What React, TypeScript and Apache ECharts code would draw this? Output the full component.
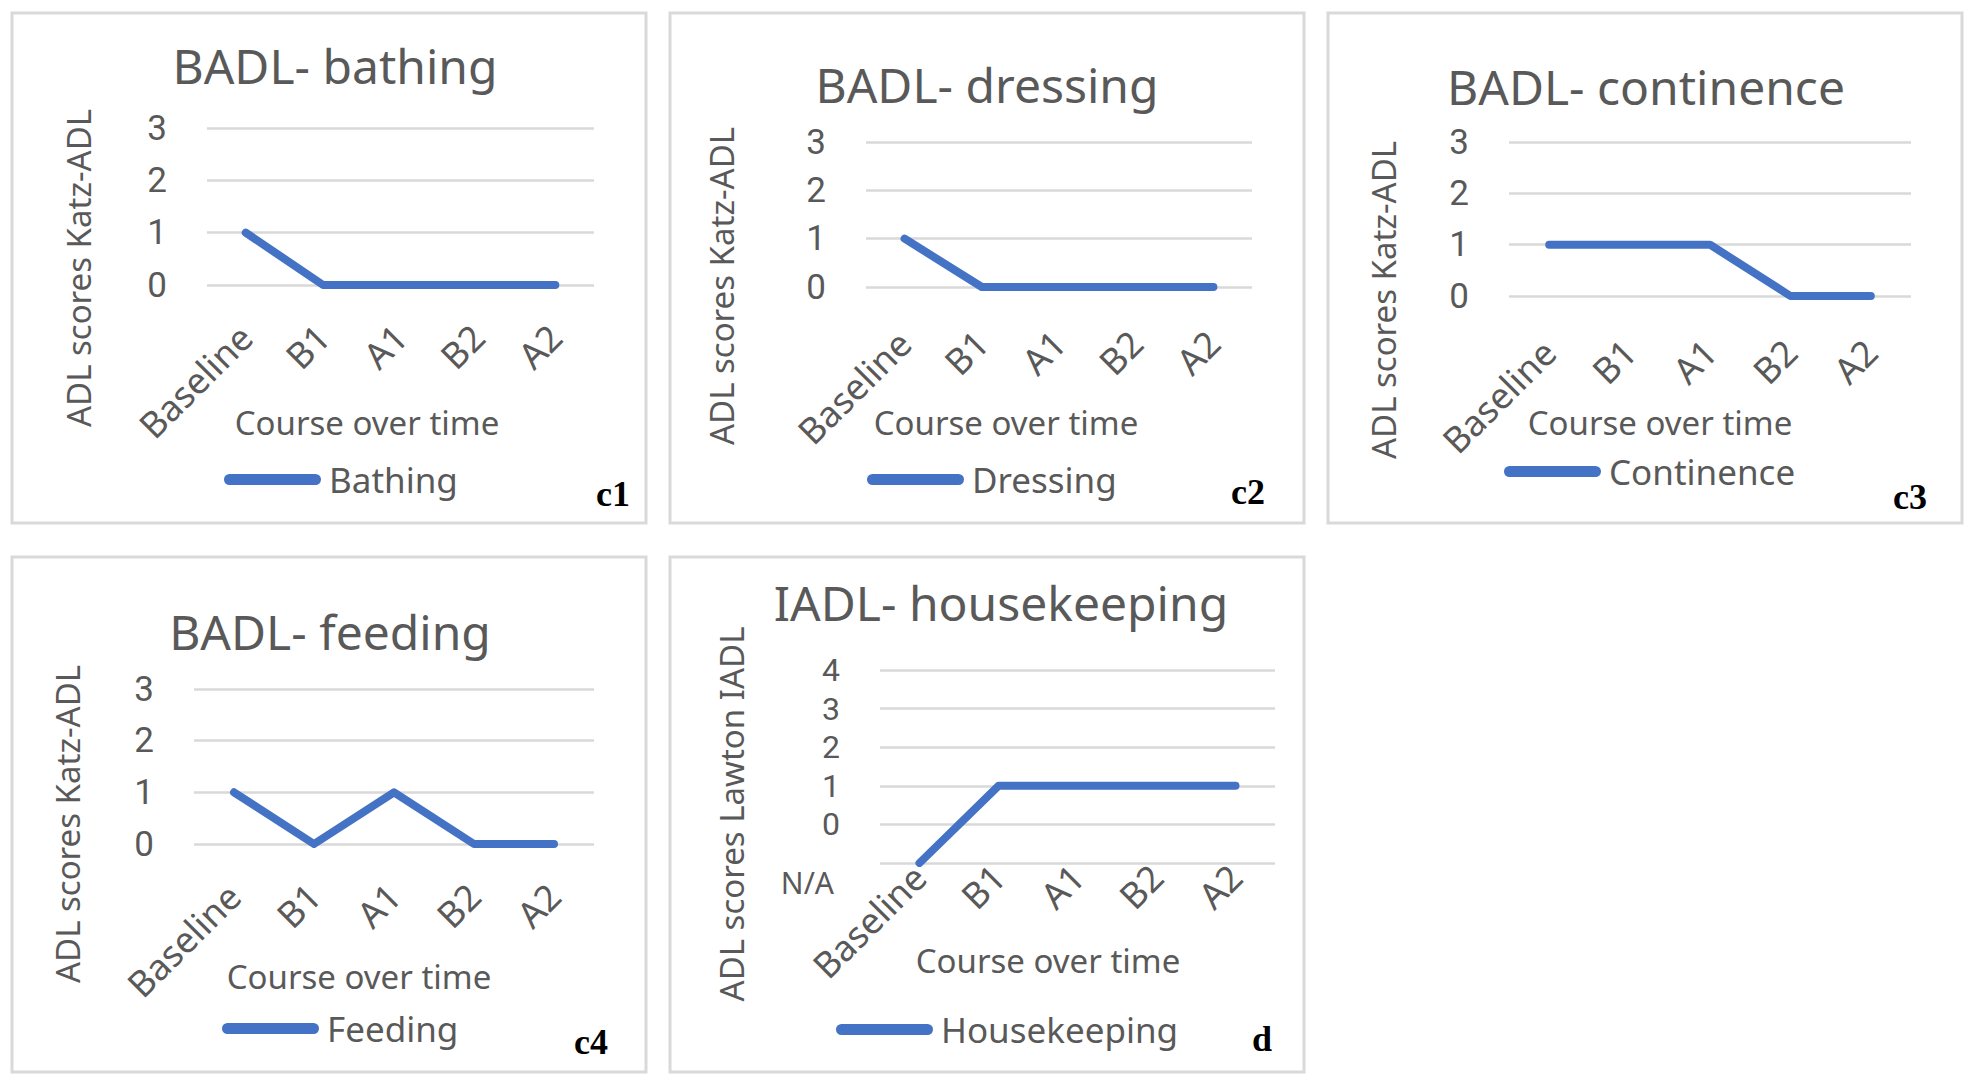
import React, { useEffect, useRef } from "react";
import * as echarts from "echarts";

// ---- data ----
const categories = ["Baseline", "B1", "A1", "B2", "A2"];
const bathing = [1, 0, 0, 0, 0];
const dressing = [1, 0, 0, 0, 0];
const continence = [1, 1, 1, 0, 0];
const feeding = [1, 0, 1, 0, 0];
// -1 is the "N/A" level of the Lawton IADL axis
const housekeeping = [-1, 1, 1, 1, 1];
const naLabel = "N/A";

const katzRange = [0, 3];
const lawtonRange = [-1, 4];

// ---- layout (pixels) ----
const FONT = "Noto Sans";
const TICKFONT = "Roboto";
const GREY = "#595959";
const GRIDC = "#D9D9D9";
const BLUE = "#4472C4";

type Panel = {
  title: string;
  name: string;
  data: number[];
  yName: string;
  tag: string;
  range: number[];
  box: number[];
  grid: number[];
  labelMargin: number;
  tickSize: number;
  titleC: number[];
  yNameC: number[];
  xNameC: number[];
  legend: number[];
  tagC: number[];
};

const panels: Panel[] = [
  {
    title: "BADL- bathing", name: "Bathing", data: bathing, yName: "ADL scores Katz-ADL", tag: "c1", range: katzRange,
    box: [12, 13, 634, 510], grid: [207, 128, 387, 157], labelMargin: 46, tickSize: 35, titleC: [335, 65], yNameC: [78, 268], xNameC: [367, 422], legend: [224, 480], tagC: [613, 494],
  },
  {
    title: "BADL- dressing", name: "Dressing", data: dressing, yName: "ADL scores Katz-ADL", tag: "c2", range: katzRange,
    box: [670, 13, 634, 510], grid: [866, 142, 386, 145], labelMargin: 50, tickSize: 35, titleC: [987, 84], yNameC: [721, 286], xNameC: [1006, 422], legend: [867, 480], tagC: [1248, 492],
  },
  {
    title: "BADL- continence", name: "Continence", data: continence, yName: "ADL scores Katz-ADL", tag: "c3", range: katzRange,
    box: [1328, 13, 634, 510], grid: [1509, 142, 402, 154], labelMargin: 50, tickSize: 35, titleC: [1646, 86], yNameC: [1383, 300], xNameC: [1660, 422], legend: [1504, 472], tagC: [1910, 497],
  },
  {
    title: "BADL- feeding", name: "Feeding", data: feeding, yName: "ADL scores Katz-ADL", tag: "c4", range: katzRange,
    box: [12, 557, 634, 515], grid: [194, 689, 400, 155], labelMargin: 46, tickSize: 35, titleC: [330, 631], yNameC: [67, 824], xNameC: [359, 976], legend: [222, 1029], tagC: [591, 1042],
  },
  {
    title: "IADL- housekeeping", name: "Housekeeping", data: housekeeping, yName: "ADL scores Lawton IADL", tag: "d", range: lawtonRange,
    box: [670, 557, 634, 515], grid: [880, 670, 395, 193], labelMargin: 8, tickSize: 32, titleC: [1001, 602], yNameC: [731, 814], xNameC: [1048, 960], legend: [836, 1030], tagC: [1262, 1039],
  },
];

const legendIcon = "path://M5.5,0L91.5,0A5.5,5.5,0,0,1,91.5,11L5.5,11A5.5,5.5,0,0,1,5.5,0Z";

function buildOption() {
  const option: any = {
    animation: false,
    backgroundColor: "#ffffff",
    title: [],
    legend: [],
    grid: [],
    xAxis: [],
    yAxis: [],
    series: [],
    graphic: [],
  };
  panels.forEach((p, i) => {
    option.title.push({
      text: p.title,
      left: p.titleC[0],
      top: p.titleC[1],
      textAlign: "center",
      textVerticalAlign: "middle",
      padding: 0,
      textStyle: { fontFamily: FONT, fontSize: 48, fontWeight: "normal", color: GREY },
    });
    option.grid.push({
      left: p.grid[0],
      top: p.grid[1],
      width: p.grid[2],
      height: p.grid[3],
      outerBoundsMode: "none",
      containLabel: false,
    });
    option.xAxis.push({
      type: "category",
      gridIndex: i,
      data: categories,
      boundaryGap: true,
      axisLine: { show: false },
      axisTick: { show: false },
      splitLine: { show: false },
      axisLabel: {
        interval: 0,
        rotate: 45,
        margin: p.labelMargin,
        fontFamily: FONT,
        fontSize: 36,
        color: GREY,
      },
    });
    const isLawton = p.range[0] < 0;
    option.yAxis.push({
      type: "value",
      gridIndex: i,
      min: p.range[0],
      max: p.range[1],
      interval: 1,
      axisLine: { show: false },
      axisTick: { show: false },
      splitLine: { show: true, lineStyle: { color: GRIDC, width: 2.5 } },
      axisLabel: {
        margin: 40,
        fontFamily: TICKFONT,
        fontSize: p.tickSize,
        color: GREY,
        formatter: (v: number) => (v < 0 ? "" : String(v)),
      },
    });
    option.series.push({
      type: "line",
      name: p.name,
      xAxisIndex: i,
      yAxisIndex: i,
      data: p.data,
      symbol: "none",
      showSymbol: false,
      color: BLUE,
      lineStyle: { color: BLUE, width: 8, cap: "round", join: "round" },
      itemStyle: { color: BLUE },
    });
    option.legend.push({
      data: [p.name],
      left: p.legend[0],
      top: p.legend[1] - 18,
      orient: "horizontal",
      padding: 0,
      itemGap: 0,
      itemWidth: 97,
      itemHeight: 11,
      icon: legendIcon,
      selectedMode: false,
      textStyle: { fontFamily: FONT, fontSize: 35, color: GREY, padding: [0, 0, 0, 3] },
    });
    option.graphic.push({
      type: "rect",
      shape: { x: p.box[0], y: p.box[1], width: p.box[2], height: p.box[3] },
      style: { fill: "none", stroke: GRIDC, lineWidth: 3 },
      silent: true,
      z: -1,
    });
    option.graphic.push({
      type: "text",
      x: p.yNameC[0],
      y: p.yNameC[1],
      rotation: Math.PI / 2,
      style: { text: p.yName, fontFamily: FONT, fontSize: 33, fill: GREY, align: "center", verticalAlign: "middle" },
    });
    option.graphic.push({
      type: "text",
      x: p.xNameC[0],
      y: p.xNameC[1],
      style: { text: "Course over time", fontFamily: FONT, fontSize: 33, fill: GREY, align: "center", verticalAlign: "middle" },
    });
    option.graphic.push({
      type: "text",
      x: p.tagC[0],
      y: p.tagC[1],
      style: {
        text: p.tag,
        fontFamily: "Liberation Serif",
        fontWeight: "bold",
        fontSize: 36,
        fill: "#000000",
        align: "center",
        verticalAlign: "middle",
      },
    });
    if (isLawton) {
      option.graphic.push({
        type: "text",
        x: p.grid[0] - 46,
        y: p.grid[1] + p.grid[3] + 19,
        style: { text: naLabel, fontFamily: FONT, fontSize: 30, fill: GREY, align: "right", verticalAlign: "middle" },
      });
    }
  });
  return option;
}

export default function App() {
  const ref = useRef<HTMLDivElement>(null);
  useEffect(() => {
    if (!ref.current) return;
    const chart = echarts.init(ref.current, null, { renderer: "svg" });
    chart.setOption(buildOption());
    return () => chart.dispose();
  }, []);
  return (
    <div
      ref={ref}
      style={{ position: "fixed", left: 0, top: 0, width: 1974, height: 1086, background: "#ffffff" }}
    />
  );
}
